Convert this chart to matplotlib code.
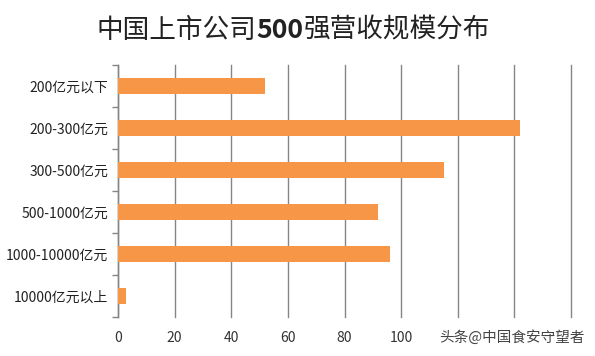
import matplotlib
matplotlib.use("Agg")
import matplotlib.pyplot as plt
import numpy as np

plt.rcParams['font.family'] = ['Noto Sans CJK SC', 'DejaVu Sans']

categories = ["200亿元以下", "200-300亿元", "300-500亿元", "500-1000亿元", "1000-10000亿元", "10000亿元以上"]
counts = [52, 142, 115, 92, 96, 3]
x_ticks = [0, 20, 40, 60, 80, 100, 120, 140, 160]
x_tick_labels = ["0", "20", "40", "60", "80", "100", "", "", ""]
title_parts = ["中国上市公司", "500", "强营收规模分布"]
watermark = "头条@中国食安守望者"

fig = plt.figure(figsize=(5.95, 3.56), dpi=100)
ax = fig.add_axes([118/595, 1-317/356, (571-118)/595, (317-65)/356])

y = np.arange(len(categories))
ax.barh(y, counts, height=0.38, color="#F79646", zorder=3)
ax.set_ylim(len(categories)-0.5, -0.5)
ax.set_xlim(0, 160)

ax.set_xticks(x_ticks)
ax.set_xticklabels(x_tick_labels, fontsize=10, color="#333333")
ax.tick_params(axis='x', length=0, pad=10)
ax.grid(axis='x', color="#858585", linewidth=1.0, zorder=0)
for gl in ax.get_xgridlines():
    gl.set_clip_on(False)

ax.set_yticks(np.arange(-0.5, len(categories), 1.0))
ax.set_yticklabels([])
ax.tick_params(axis='y', which='major', length=4, color="#858585", width=1)
ax.set_yticks(y, minor=True)
ax.set_yticklabels(categories, minor=True, fontsize=10, color="#222222")
ax.tick_params(axis='y', which='minor', length=0, pad=7)

for s in ['top', 'right', 'bottom']:
    ax.spines[s].set_visible(False)
ax.spines['left'].set_color("#858585")
ax.spines['left'].set_linewidth(1.0)

# title with bold "500"
weights = ['normal', 'bold', 'normal']
texts = [fig.text(0, 1-30/356, p, fontsize=19.2, fontweight=w, va='center', ha='left', color="#222222")
         for p, w in zip(title_parts, weights)]
fig.canvas.draw()
r = fig.canvas.get_renderer()
widths = [t.get_window_extent(r).width for t in texts]
total = sum(widths)
cx = 293.5
x0 = cx - total/2
for t, w in zip(texts, widths):
    t.set_x(x0/595)
    x0 += w

fig.text(585/595, 1-337/356, watermark, fontsize=10.5, ha='right', va='center', color="#444444")

fig.savefig("out.png", dpi=100)
